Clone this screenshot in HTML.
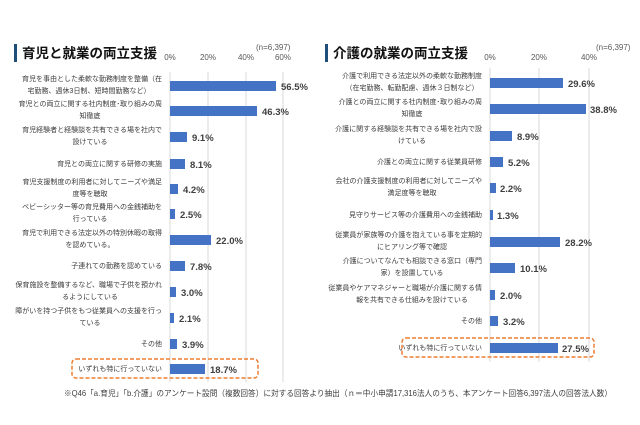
<!DOCTYPE html>
<html><head><meta charset="utf-8"><style>
html,body{margin:0;padding:0;background:#fff;}
svg{display:block;font-family:"Liberation Sans","Noto Sans CJK JP",sans-serif;}
.l{font-size:7px;fill:#3a3a3a;}
.v{font-size:9.5px;font-weight:bold;fill:#404040;}
.ax{font-size:8px;fill:#595959;}
.t{font-size:13.5px;font-weight:bold;fill:#111;}
</style></head><body>
<svg width="640" height="425" viewBox="0 0 640 425">
<rect width="640" height="425" fill="#fff"/>
<!-- LEFT -->
<rect x="14" y="44" width="3" height="18" fill="#1f4e79"/>
<text class="t" x="22" y="58">育児と就業の両立支援</text>
<text class="ax" x="256" y="50">(n=6,397)</text>
<text class="ax" x="170" y="60" text-anchor="middle">0%</text>
<text class="ax" x="208" y="60" text-anchor="middle">20%</text>
<text class="ax" x="246" y="60" text-anchor="middle">40%</text>
<text class="ax" x="283" y="60" text-anchor="middle">60%</text>
<g stroke="#d9d9d9" stroke-width="1">
<line x1="170" y1="72" x2="170" y2="382"/><line x1="208" y1="72" x2="208" y2="382"/>
<line x1="246" y1="72" x2="246" y2="382"/><line x1="283" y1="72" x2="283" y2="382"/>
</g>
<g fill="#4472c4">
<rect x="170" y="81" width="106" height="10"/>
<rect x="170" y="106" width="87" height="10"/>
<rect x="170" y="132" width="17" height="10"/>
<rect x="170" y="159" width="15" height="10"/>
<rect x="170" y="184" width="8" height="10"/>
<rect x="170" y="209" width="5" height="10"/>
<rect x="170" y="235" width="41" height="10"/>
<rect x="170" y="261" width="15" height="10"/>
<rect x="170" y="287" width="6" height="10"/>
<rect x="170" y="313" width="4" height="10"/>
<rect x="170" y="339" width="7" height="10"/>
<rect x="170" y="364" width="35" height="10"/>
</g>
<g class="v">
<text x="281" y="90">56.5%</text>
<text x="262" y="115">46.3%</text>
<text x="192" y="141">9.1%</text>
<text x="190" y="168">8.1%</text>
<text x="183" y="193">4.2%</text>
<text x="180" y="218">2.5%</text>
<text x="216" y="244">22.0%</text>
<text x="190" y="270">7.8%</text>
<text x="181" y="296">3.0%</text>
<text x="179" y="322">2.1%</text>
<text x="182" y="348">3.9%</text>
<text x="210" y="373">18.7%</text>
</g>
<g class="l" text-anchor="end">
<text x="162" y="81">育児を事由とした柔軟な勤務制度を整備（在</text>
<text x="162" y="106">育児との両立に関する社内制度･取り組みの周</text>
<text x="162" y="132">育児経験者と経験談を共有できる場を社内で</text>
<text x="162" y="166">育児との両立に関する研修の実施</text>
<text x="162" y="184">育児支援制度の利用者に対してニーズや満足</text>
<text x="162" y="209">ベビーシッター等の育児費用への金銭補助を</text>
<text x="162" y="235">育児で利用できる法定以外の特別休暇の取得</text>
<text x="162" y="268">子連れての勤務を認めている</text>
<text x="162" y="287">保育施設を整備するなど、職場で子供を預かれ</text>
<text x="162" y="313">障がいを持つ子供をもつ従業員への支援を行っ</text>
<text x="162" y="346">その他</text>
<text x="162" y="371">いずれも特に行っていない</text>
</g>
<g class="l" text-anchor="middle">
<text x="89" y="93">宅勤務、週休3日制、短時間勤務など）</text>
<text x="90" y="118">知徹底</text>
<text x="90" y="144">設けている</text>
<text x="90" y="196">度等を聴取</text>
<text x="90" y="221">行っている</text>
<text x="90" y="247">を認めている。</text>
<text x="90" y="299">るようにしている</text>
<text x="90" y="325">ている</text>
</g>
<rect x="72" y="359" width="186" height="19" rx="4" fill="none" stroke="#ed7d31" stroke-width="1.5" stroke-dasharray="4,2"/>
<!-- RIGHT -->
<rect x="325" y="44" width="3" height="18" fill="#1f4e79"/>
<text class="t" x="333" y="58">介護の就業の両立支援</text>
<text class="ax" x="596" y="50">(n=6,397)</text>
<text class="ax" x="490" y="60" text-anchor="middle">0%</text>
<text class="ax" x="539" y="60" text-anchor="middle">20%</text>
<text class="ax" x="589" y="60" text-anchor="middle">40%</text>
<g stroke="#d9d9d9" stroke-width="1">
<line x1="490" y1="68" x2="490" y2="362"/><line x1="539" y1="68" x2="539" y2="362"/>
<line x1="589" y1="68" x2="589" y2="362"/>
</g>
<g fill="#4472c4">
<rect x="490" y="78" width="73" height="10"/>
<rect x="490" y="104" width="96" height="10"/>
<rect x="490" y="131" width="22" height="10"/>
<rect x="490" y="157" width="13" height="10"/>
<rect x="490" y="183" width="6" height="10"/>
<rect x="490" y="210" width="3" height="10"/>
<rect x="490" y="237" width="70" height="10"/>
<rect x="490" y="263" width="25" height="10"/>
<rect x="490" y="290" width="5" height="10"/>
<rect x="490" y="316" width="8" height="10"/>
<rect x="490" y="343" width="68" height="10"/>
</g>
<g class="v">
<text x="568" y="87">29.6%</text>
<text x="590" y="113">38.8%</text>
<text x="517" y="140">8.9%</text>
<text x="508" y="166">5.2%</text>
<text x="500" y="192">2.2%</text>
<text x="497" y="219">1.3%</text>
<text x="565" y="246">28.2%</text>
<text x="520" y="272">10.1%</text>
<text x="500" y="299">2.0%</text>
<text x="503" y="325">3.2%</text>
<text x="562" y="352">27.5%</text>
</g>
<g class="l" text-anchor="end">
<text x="482" y="78">介護で利用できる法定以外の柔軟な勤務制度</text>
<text x="482" y="104">介護との両立に関する社内制度･取り組みの周</text>
<text x="482" y="131">介護に関する経験談を共有できる場を社内で設</text>
<text x="482" y="164">介護との両立に関する従業員研修</text>
<text x="482" y="183">会社の介護支援制度の利用者に対してニーズや</text>
<text x="482" y="217">見守りサービス等の介護費用への金銭補助</text>
<text x="482" y="237">従業員が家族等の介護を抱えている事を定期的</text>
<text x="482" y="263">介護についてなんでも相談できる窓口（専門</text>
<text x="482" y="290">従業員やケアマネジャーと職場が介護に関する情</text>
<text x="482" y="323">その他</text>
<text x="482" y="350">いずれも特に行っていない</text>
</g>
<g class="l" text-anchor="middle">
<text x="412" y="90">（在宅勤務、転勤配慮、週休３日制など）</text>
<text x="412" y="116">知徹底</text>
<text x="412" y="143">けている</text>
<text x="412" y="195">満足度等を聴取</text>
<text x="412" y="249">にヒアリング等で確認</text>
<text x="412" y="275">家）を設置している</text>
<text x="412" y="302">報を共有できる仕組みを設けている</text>
</g>
<rect x="402" y="338" width="192" height="19" rx="4" fill="none" stroke="#ed7d31" stroke-width="1.5" stroke-dasharray="4,2"/>
<text x="338" y="396" text-anchor="middle" textLength="548" lengthAdjust="spacingAndGlyphs" style="font-size:8.2px;fill:#404040">※Q46「a.育児」「b.介護」のアンケート設問（複数回答）に対する回答より抽出（ｎ＝中小申請17,316法人のうち、本アンケート回答6,397法人の回答法人数）</text>
</svg>
</body></html>
